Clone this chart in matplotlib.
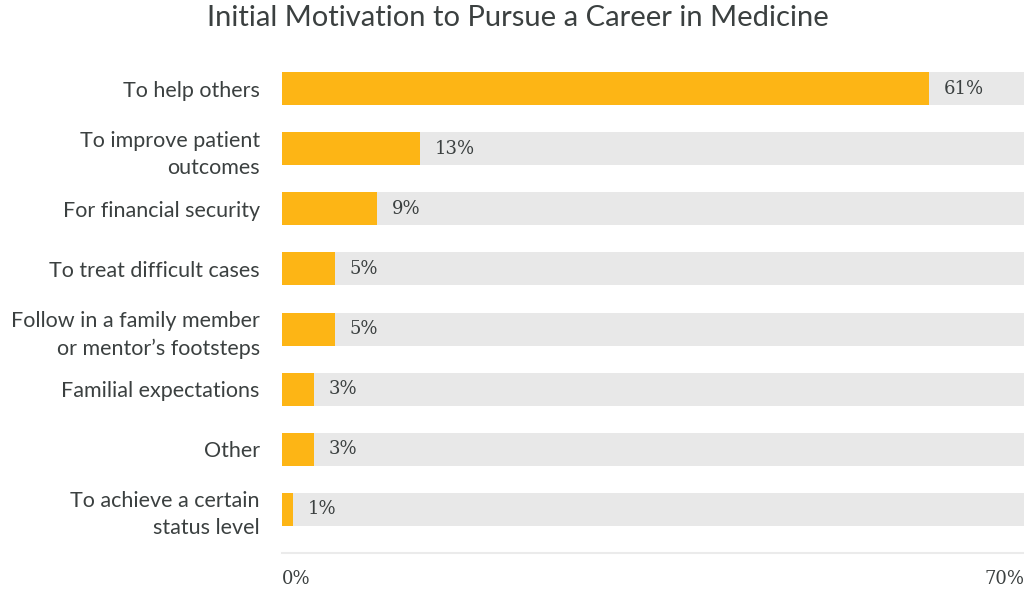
import matplotlib.pyplot as plt

# data
labels = ['To help others', 'To improve patient\noutcomes', 'For financial security',
          'To treat difficult cases', 'Follow in a family member\nor mentor\u2019s footsteps',
          'Familial expectations', 'Other', 'To achieve a certain\nstatus level']
values = [61, 13, 9, 5, 5, 3, 3, 1]
xmax = 70
tick_labels = ['0%', '70%']

orange = '#FDB515'
grey = '#E8E8E8'
txt = '#3B4040'
sans = ['Lato', 'DejaVu Sans']
serif = ['DejaVu Serif']

fig = plt.figure(figsize=(10.24, 5.90), dpi=100)
ax = fig.add_axes([282/1024, 37/590, 742/1024, 493/590])

ypos = list(range(len(values)))
ax.barh(ypos, [xmax]*len(values), height=0.55, color=grey, zorder=1)
ax.barh(ypos, values, height=0.55, color=orange, zorder=2)

for y, v in zip(ypos, values):
    ax.text(v + 1.4, y, f'{v}%', va='center', ha='left', fontsize=13,
            family=serif, color=txt, zorder=3)

ax.set_xlim(0, xmax)
ax.set_ylim(7.733, -0.483)
ax.set_yticks(ypos)
ax.set_yticklabels(labels, family=sans, fontsize=15.5, color=txt, ha='right', linespacing=1.45)
ax.tick_params(axis='y', length=0, pad=16)
ax.set_xticks([])
for s in ['top', 'right', 'left']:
    ax.spines[s].set_visible(False)
ax.spines['bottom'].set_color('#EBEBEB')
ax.spines['bottom'].set_linewidth(1.5)

ax.text(0, -0.035, tick_labels[0], transform=ax.transAxes, ha='left', va='top',
        fontsize=13, family=serif, color=txt)
ax.text(1, -0.035, tick_labels[1], transform=ax.transAxes, ha='right', va='top',
        fontsize=13, family=serif, color=txt)

fig.text(518/1024, 1 - 18/590, 'Initial Motivation to Pursue a Career in Medicine',
         ha='center', va='center', fontsize=21, family=sans, color=txt)

fig.savefig('out.png', dpi=100, facecolor='white')
